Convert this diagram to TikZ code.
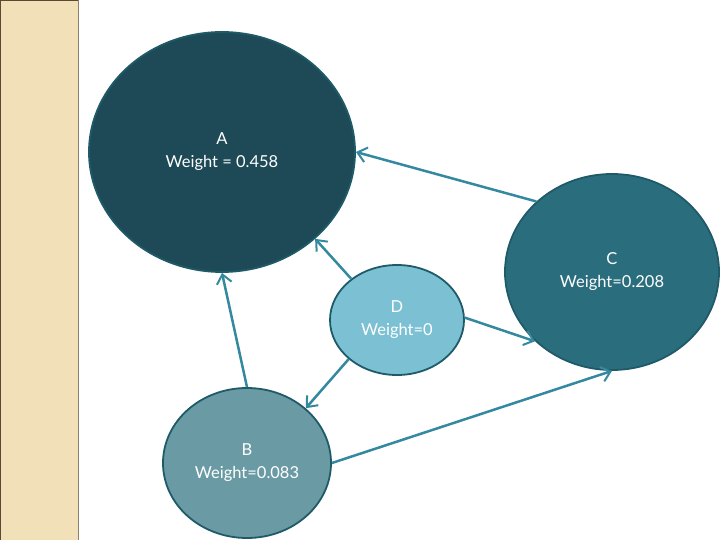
\documentclass[tikz,border=0pt]{standalone}
\usepackage{fontspec}
\setmainfont{Lato}
\usepackage{xcolor}
\usetikzlibrary{shapes.geometric, arrows.meta, positioning}

\definecolor{stripfill}{HTML}{F1E0B8}
\definecolor{stripline}{HTML}{5A4A32}
\definecolor{darkA}{HTML}{1E4A57}
\definecolor{tealC}{HTML}{2A6E7E}
\definecolor{greyB}{HTML}{6A9BA5}
\definecolor{lightD}{HTML}{7CC1D3}
\definecolor{rim}{HTML}{1F5A68}
\definecolor{link}{HTML}{3488A0}

\begin{document}
\begin{tikzpicture}[
    x=1pt, y=-1pt,
    vertex/.style={ellipse, draw=rim, line width=1.8pt, text=white, align=center,
                   inner sep=0pt, font=\fontsize{16.5}{23}\selectfont},
    arrow/.style={-{Straight Barb[length=9pt, width=15pt, line width=2pt]}, line width=2.5pt, link}
]
\useasboundingbox (0,0) rectangle (720,540);

% Side strip
\fill[stripfill] (0,0) rectangle (78,540);
\draw[stripline, line width=0.8pt] (0.4,540) -- (0.4,0.4) -- (78,0.4);
\draw[stripline!70, line width=0.8pt] (78,0) -- (78,540);

% Vertices
\node[vertex, fill=darkA, minimum width=266pt, minimum height=240pt] (a) at (222,152) {A\\Weight = 0.458};
\node[vertex, fill=tealC, minimum width=214pt, minimum height=196pt] (c) at (612,272) {C\\Weight=0.208};
\node[vertex, fill=lightD, minimum width=134pt, minimum height=110pt] (d) at (397,320) {D\\Weight=0};
\node[vertex, fill=greyB, minimum width=168pt, minimum height=150pt] (b) at (247,463) {B\\Weight=0.083};

% Links
\draw[arrow] (c.137) -- (a.0);
\draw[arrow] (d.138) -- (a.-43);
\draw[arrow] (d.2) -- (c.222);
\draw[arrow] (d.219) -- (b.43);
\draw[arrow] (b.90) -- (a.-90);
\draw[arrow] (b.0) -- (c.-90);

\end{tikzpicture}
\end{document}
